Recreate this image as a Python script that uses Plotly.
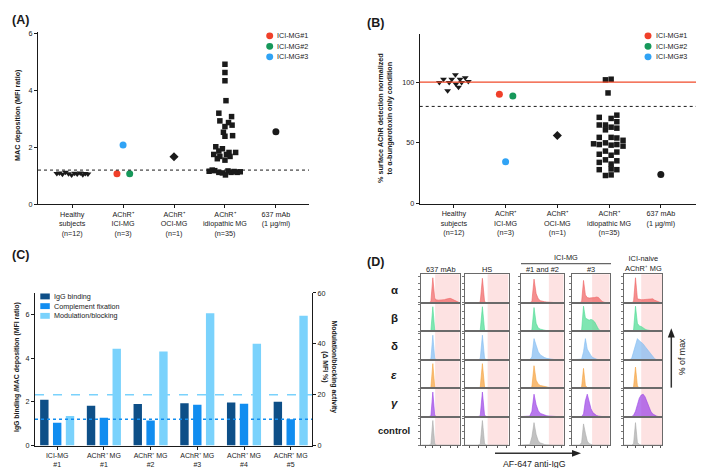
import plotly.graph_objects as go

W, H = 709, 468
FONT = "Liberation Sans, Arial, sans-serif"
INK = "#1a1a1a"

# ---------------- data ----------------
GROUPS = [
    "Healthy<br>subjects<br>(n=12)",
    "AChR⁺<br>ICI-MG<br>(n=3)",
    "AChR⁺<br>OCI-MG<br>(n=1)",
    "AChR⁺<br>idiopathic MG<br>(n=35)",
    "637 mAb<br>(1 µg/ml)",
]
ICI_NAMES = ["ICI-MG#1", "ICI-MG#2", "ICI-MG#3"]
ICI_COLORS = ["#f0402a", "#16985a", "#30a3f5"]

# panel A: MAC deposition (MFI ratio)
A_HEALTHY = [1.08, 1.10, 1.05, 1.12, 1.07, 1.03, 1.09, 1.06, 1.10, 1.04, 1.08, 1.06]
A_HEALTHY_DX = [-0.30, -0.25, -0.19, -0.13, -0.07, -0.01, 0.05, 0.10, 0.16, 0.21, 0.26, 0.31]
A_ICI = [1.07, 1.07, 2.08]
A_ICI_DX = [-0.12, 0.13, 0.0]
A_OCI = [1.67]
A_IDIO = [4.92, 4.63, 4.34, 3.64, 3.20, 3.08, 2.93, 2.87, 2.73, 2.78, 2.53, 2.39,
          2.41, 2.02, 1.95, 1.87, 1.82, 1.82, 1.75, 1.75, 1.68, 1.68, 1.60, 1.55,
          1.16, 1.18, 1.12, 1.10, 1.03, 1.17, 1.12, 1.15, 1.12, 1.14, 1.20]
A_IDIO_DX = [0.0, 0.0, 0.0, 0.02, -0.12, 0.13, -0.10, 0.07, 0.0, 0.14, -0.03, 0.0,
             0.15, -0.18, -0.05, -0.12, 0.08, 0.21, -0.22, 0.03, -0.10, 0.10, -0.15, 0.0,
             -0.31, -0.20, -0.12, -0.05, 0.01, 0.06, 0.12, 0.18, 0.24, 0.30, -0.25]
A_MAB = [2.55]
A_CUTOFF = 1.2

# panel B: % surface AChR detection
B_HEALTHY = [99.7, 102.4, 93.0, 99.7, 102.4, 106.0, 98.4, 95.7, 102.4, 99.7, 103.7, 100.5]
B_HEALTHY_DX = [-0.28, -0.20, -0.12, -0.09, -0.04, 0.03, 0.04, 0.09, 0.12, 0.15, 0.22, 0.28]
B_ICI = [90.0, 88.5, 34.5]
B_ICI_DX = [-0.12, 0.14, 0.0]
B_OCI = [56.0]
B_IDIO = [101.9, 102.4, 91.1, 72.8, 71.0, 70.1, 64.7, 64.7, 67.4, 62.9, 62.1, 60.7,
          54.5, 54.5, 54.0, 52.1, 49.2, 48.6, 50.0, 48.1, 48.6, 47.3, 40.6, 43.2,
          39.8, 42.4, 33.9, 36.0, 32.5, 35.2, 27.9, 28.5, 27.9, 23.1, 23.6]
B_IDIO_DX = [-0.07, 0.04, -0.02, 0.15, -0.19, 0.04, -0.19, -0.07, 0.15, 0.04, 0.15, -0.07,
             -0.19, 0.04, 0.15, 0.27, -0.30, -0.19, -0.07, 0.04, 0.15, 0.27, -0.19, -0.07,
             0.04, 0.15, -0.19, -0.07, 0.04, 0.15, -0.19, 0.04, 0.15, -0.07, 0.04]
B_MAB = [24.0]
B_REF = 100
B_CUTOFF = 80

# panel C: bars
C_GROUPS = ["ICI-MG<br>#1", "AChR⁺ MG<br>#1", "AChR⁺ MG<br>#2",
            "AChR⁺ MG<br>#3", "AChR⁺ MG<br>#4", "AChR⁺ MG<br>#5"]
C_IGG = [2.10, 1.83, 1.91, 1.94, 1.97, 2.01]
C_CF = [1.04, 1.27, 1.15, 1.87, 1.92, 1.21]
C_MOD = [11.6, 38.1, 37.0, 52.0, 40.0, 51.0]
C_MAC_CUT = 1.2
C_MOD_CUT = 20
C_NAMES = ["IgG binding", "Complement fixation", "Modulation/blocking"]
C_COLORS = ["#0d4f88", "#118df0", "#7ad2fc"]

# panel D: flow histograms (% of max on a shared bin grid)
D_BINS = [0.0, 0.05, 0.1, 0.15, 0.2, 0.25, 0.3, 0.35, 0.4, 0.45, 0.5,
          0.55, 0.6, 0.65, 0.7, 0.75, 0.8, 0.85, 0.9, 0.95, 1.0]
D_COLS = ["637 mAb", "HS", "#1 and #2", "#3", "ICI-naive<br>AChR⁺ MG"]
D_ROWS = ["α", "β", "δ", "<i>ε</i>", "<i>γ</i>", "control"]
D_ROW_COLORS = ["#f06464", "#4ddc94", "#84bdf2", "#f5a240", "#9d45e6", "#ababab"]
D_GATES = [0.36, 0.52, 0.65, 0.53, 0.45]

MAB_ALPHA = [0, 0, 0, 0, 0, 0.05, 0.95, 0.16, 0.11, 0.10, 0.10, 0.11, 0.12, 0.14, 0.16, 0.17, 0.14, 0.10, 0.06, 0.03, 0]
SPIKE_LOW = [0, 0, 0, 0, 0, 0.03, 0.93, 0.04, 0, 0, 0, 0, 0, 0, 0, 0, 0, 0, 0, 0, 0]
SPIKE_MID = [0, 0, 0, 0, 0, 0, 0, 0.03, 0.93, 0.04, 0, 0, 0, 0, 0, 0, 0, 0, 0, 0, 0]
ICI12_A = [0, 0, 0, 0, 0, 0.05, 0.90, 0.35, 0.15, 0.08, 0.05, 0.04, 0.03, 0.02, 0.02, 0.01, 0, 0, 0, 0, 0]
ICI12_B = [0, 0, 0, 0, 0, 0.05, 0.90, 0.30, 0.12, 0.08, 0.05, 0.03, 0.02, 0.01, 0.01, 0, 0, 0, 0, 0, 0]
ICI12_D = [0, 0, 0, 0, 0, 0.10, 0.80, 0.55, 0.30, 0.18, 0.12, 0.08, 0.05, 0.03, 0.02, 0.01, 0, 0, 0, 0, 0]
ICI12_E = [0, 0, 0, 0, 0, 0.05, 0.85, 0.30, 0.15, 0.10, 0.08, 0.05, 0.03, 0.02, 0.01, 0, 0, 0, 0, 0, 0]
ICI12_G = [0, 0, 0, 0, 0.02, 0.20, 0.85, 0.45, 0.22, 0.12, 0.08, 0.05, 0.03, 0.02, 0.01, 0, 0, 0, 0, 0, 0]
ICI12_C = [0, 0, 0, 0, 0.02, 0.30, 0.85, 0.40, 0.15, 0.08, 0.04, 0.02, 0.01, 0, 0, 0, 0, 0, 0, 0, 0]
ICI3_A = [0, 0, 0, 0, 0, 0.05, 0.85, 0.30, 0.20, 0.18, 0.18, 0.20, 0.20, 0.22, 0.20, 0.12, 0.05, 0.02, 0, 0, 0]
ICI3_B = [0, 0, 0, 0, 0, 0.05, 0.95, 0.50, 0.45, 0.42, 0.45, 0.42, 0.35, 0.20, 0.08, 0.02, 0, 0, 0, 0, 0]
ICI3_D = [0, 0, 0, 0, 0, 0.02, 0.30, 0.80, 0.40, 0.25, 0.15, 0.08, 0.04, 0.02, 0, 0, 0, 0, 0, 0, 0]
ICI3_E = [0, 0, 0, 0, 0, 0.05, 0.75, 0.10, 0.02, 0, 0, 0, 0, 0, 0, 0, 0, 0, 0, 0, 0]
ICI3_G = [0, 0, 0, 0, 0, 0, 0.10, 0.60, 0.85, 0.55, 0.30, 0.15, 0.08, 0.04, 0.02, 0, 0, 0, 0, 0, 0]
ICI3_C = [0, 0, 0, 0, 0, 0.10, 0.80, 0.45, 0.15, 0.05, 0.02, 0, 0, 0, 0, 0, 0, 0, 0, 0, 0]
NAIVE_A = [0, 0, 0, 0, 0, 0.05, 0.95, 0.15, 0.12, 0.12, 0.12, 0.13, 0.14, 0.15, 0.16, 0.15, 0.10, 0.06, 0.03, 0.01, 0]
NAIVE_B = [0, 0, 0, 0, 0, 0.05, 0.95, 0.30, 0.20, 0.18, 0.12, 0.08, 0.05, 0.03, 0.02, 0.01, 0, 0, 0, 0, 0]
NAIVE_D = [0, 0, 0, 0, 0.05, 0.30, 0.60, 0.80, 0.72, 0.66, 0.60, 0.50, 0.40, 0.30, 0.20, 0.10, 0.04, 0, 0, 0, 0]
NAIVE_E = [0, 0, 0, 0, 0, 0.05, 0.80, 0.08, 0, 0, 0, 0, 0, 0, 0, 0, 0, 0, 0, 0, 0]
NAIVE_G = [0, 0, 0, 0, 0, 0.05, 0.20, 0.45, 0.70, 0.82, 0.85, 0.75, 0.55, 0.35, 0.20, 0.10, 0.05, 0.02, 0, 0, 0]
NAIVE_C = [0, 0, 0, 0, 0, 0.05, 0.85, 0.10, 0.02, 0, 0, 0, 0, 0, 0, 0, 0, 0, 0, 0, 0]

D_GRID = [  # one list per column, rows alpha..control
    [MAB_ALPHA, SPIKE_LOW, SPIKE_LOW, SPIKE_LOW, SPIKE_LOW, SPIKE_LOW],
    [SPIKE_MID, SPIKE_MID, SPIKE_MID, SPIKE_MID, SPIKE_MID, SPIKE_MID],
    [ICI12_A, ICI12_B, ICI12_D, ICI12_E, ICI12_G, ICI12_C],
    [ICI3_A, ICI3_B, ICI3_D, ICI3_E, ICI3_G, ICI3_C],
    [NAIVE_A, NAIVE_B, NAIVE_D, NAIVE_E, NAIVE_G, NAIVE_C],
]


# ---------------- helpers ----------------
def px(p):
    return p / W


def py(p):
    return 1 - p / H


def rgba(hex_color, a):
    h = hex_color.lstrip("#")
    return f"rgba({int(h[0:2], 16)},{int(h[2:4], 16)},{int(h[4:6], 16)},{a})"


def base_axis(**kw):
    d = dict(showline=True, linecolor=INK, linewidth=1.1, ticks="outside", ticklen=3,
             tickwidth=1, tickcolor=INK, showgrid=False, zeroline=False,
             tickfont=dict(size=7.2, color=INK, family=FONT))
    d.update(kw)
    return d


annotations = []
shapes = []


def note(text, x, y, size=7.2, xanchor="center", yanchor="middle", angle=0, bold=False):
    annotations.append(dict(
        text=f"<b>{text}</b>" if bold else text, x=px(x), y=py(y), xref="paper", yref="paper",
        xanchor=xanchor, yanchor=yanchor, showarrow=False, textangle=angle,
        font=dict(size=size, color=INK, family=FONT)))


def arrow(x0, y0, x1, y1, head):
    # shaft as a line, head as a filled triangle path (pixel coords -> paper)
    shapes.append(dict(type="line", xref="paper", yref="paper", x0=px(x0), y0=py(y0),
                       x1=px(x1), y1=py(y1), line=dict(color="#333", width=1.5)))
    path = "M " + " L ".join(f"{px(a)} {py(b)}" for a, b in head) + " Z"
    shapes.append(dict(type="path", xref="paper", yref="paper", path=path,
                       fillcolor="#222", line=dict(width=0)))


fig = go.Figure()


def scatter(xs, ys, symbol, size, color, xa, ya):
    fig.add_trace(go.Scatter(x=xs, y=ys, mode="markers", xaxis=xa, yaxis=ya, showlegend=False,
                             cliponaxis=False,
                             marker=dict(symbol=symbol, size=size, color=color, line=dict(width=0))))


# ---------------- panel A ----------------
scatter([0 + d for d in A_HEALTHY_DX], A_HEALTHY, "triangle-down", 6, INK, "x", "y")
scatter([1 + d for d in A_ICI_DX], A_ICI, "circle", 7, ICI_COLORS, "x", "y")
scatter([2], A_OCI, "diamond", 7, INK, "x", "y")
scatter([3 + d for d in A_IDIO_DX], A_IDIO, "square", 5.5, INK, "x", "y")
scatter([4], A_MAB, "circle", 7, INK, "x", "y")
shapes.append(dict(type="line", xref="x domain", yref="y", x0=0, x1=1, y0=A_CUTOFF, y1=A_CUTOFF,
                   line=dict(color=INK, width=1, dash="dot")))

# ---------------- panel B ----------------
scatter([0 + d for d in B_HEALTHY_DX], B_HEALTHY, "triangle-down", 6, INK, "x2", "y2")
scatter([1 + d for d in B_ICI_DX], B_ICI, "circle", 7, ICI_COLORS, "x2", "y2")
scatter([2], B_OCI, "diamond", 7, INK, "x2", "y2")
scatter([3 + d for d in B_IDIO_DX], B_IDIO, "square", 5.5, INK, "x2", "y2")
scatter([4], B_MAB, "circle", 7, INK, "x2", "y2")
shapes.append(dict(type="line", xref="x2 domain", yref="y2", x0=0, x1=1, y0=B_REF, y1=B_REF,
                   line=dict(color="#f04a2a", width=1.4)))
shapes.append(dict(type="line", xref="x2 domain", yref="y2", x0=0, x1=1, y0=B_CUTOFF, y1=B_CUTOFF,
                   line=dict(color=INK, width=1, dash="dot")))

# ---------------- panel C ----------------
cx = list(range(len(C_GROUPS)))
for vals, name, color, ya, off in [(C_IGG, C_NAMES[0], C_COLORS[0], "y3", -0.365),
                                   (C_CF, C_NAMES[1], C_COLORS[1], "y3", -0.09),
                                   (C_MOD, C_NAMES[2], C_COLORS[2], "y4", 0.185)]:
    fig.add_trace(go.Bar(x=cx, y=vals, name=name, xaxis="x3", yaxis=ya, offset=off, width=0.18,
                         marker=dict(color=color, line=dict(width=0)), showlegend=False))
shapes.append(dict(type="line", xref="x3 domain", yref="y4", x0=0, x1=1, y0=C_MOD_CUT, y1=C_MOD_CUT,
                   line=dict(color=C_COLORS[2], width=1.5, dash="dash")))
shapes.append(dict(type="line", xref="x3 domain", yref="y3", x0=0, x1=1, y0=C_MAC_CUT, y1=C_MAC_CUT,
                   line=dict(color=C_COLORS[1], width=1.5, dash="dot")))

layout = dict(
    width=W, height=H, margin=dict(l=0, r=0, t=0, b=0),
    paper_bgcolor="white", plot_bgcolor="white", barmode="overlay", showlegend=False,
    font=dict(family=FONT, color=INK),
    xaxis=base_axis(domain=[px(30), px(301)], range=[-0.67, 4.65], anchor="y",
                    tickvals=list(range(5)), ticktext=GROUPS),
    yaxis=base_axis(domain=[py(196), py(20.5)], range=[0, 6.05], anchor="x", tickvals=[0, 2, 4, 6]),
    xaxis2=base_axis(domain=[px(411.7), px(688)], range=[-0.66, 4.68], anchor="y2",
                     tickvals=list(range(5)), ticktext=GROUPS),
    yaxis2=base_axis(domain=[py(195.3), py(22)], range=[0, 140], anchor="x2", tickvals=[0, 50, 100]),
    xaxis3=base_axis(domain=[px(27), px(304)], range=[-0.475, 5.456], anchor="y3",
                     tickvals=cx, ticktext=C_GROUPS, tickfont=dict(size=7, color=INK, family=FONT)),
    yaxis3=base_axis(domain=[py(442), py(286.5)], range=[0, 7], anchor="x3", tickvals=[0, 2, 4, 6]),
    yaxis4=base_axis(domain=[py(442), py(286.5)], range=[0, 60], anchor="x3", overlaying="y3",
                     side="right", tickvals=[0, 20, 40, 60]),
)

# ---------------- panel D ----------------
D_COL_PX = [(413.3, 451.7), (457.0, 500.5), (513.3, 555.7), (564.3, 601.7), (616.0, 654.3)]
ROW_TOP, ROW_H = 267.5, 29.0
for c, col in enumerate(D_GRID):
    x0p, x1p = D_COL_PX[c]
    for r, hist in enumerate(col):
        n = 5 + c * 6 + r
        top = ROW_TOP + r * ROW_H
        layout[f"xaxis{n}"] = dict(
            domain=[px(x0p), px(x1p)], range=[0, 1], anchor=f"y{n}", showline=True, mirror=True,
            linecolor="#6a6a6a", linewidth=0.7, showgrid=False, zeroline=False, showticklabels=False,
            ticks="outside" if r == 5 else "", ticklen=2, tickwidth=0.6, tickcolor="#555",
            tickvals=[0.1, 0.3, 0.5, 0.75, 0.95])
        layout[f"yaxis{n}"] = dict(
            domain=[py(top + ROW_H), py(top)], range=[0, 1.08], anchor=f"x{n}", showline=True,
            mirror=True, linecolor="#6a6a6a", linewidth=0.7, showgrid=False, zeroline=False,
            showticklabels=False, ticks="outside", ticklen=2, tickwidth=0.6, tickcolor="#777",
            tickvals=[0, 0.25, 0.5, 0.75, 1.0])
        shapes.append(dict(type="rect", xref=f"x{n}", yref=f"y{n} domain", x0=D_GATES[c], x1=1,
                           y0=0, y1=1, fillcolor="#fde2e2", line=dict(width=0), layer="below"))
        color = D_ROW_COLORS[r]
        fig.add_trace(go.Scatter(x=D_BINS, y=hist, mode="lines", fill="tozeroy",
                                 fillcolor=rgba(color, 0.72), line=dict(color=color, width=0.6),
                                 xaxis=f"x{n}", yaxis=f"y{n}", showlegend=False))

# column headers
for c, name in enumerate(D_COLS):
    cxp = (D_COL_PX[c][0] + D_COL_PX[c][1]) / 2
    if c == 4:
        note(name, cxp, 256.5, size=7.4)
    else:
        note(name, cxp, 262.5, size=7.4)
note("ICI-MG", 558, 250.5, size=7.4)
shapes.append(dict(type="line", xref="paper", yref="paper", x0=px(513), x1=px(603),
                   y0=py(256.5), y1=py(256.5), line=dict(color="#666", width=1.3)))
# row labels
for r, name in enumerate(D_ROWS):
    yc = ROW_TOP + (r + 0.5) * ROW_H
    if r == 5:
        note(name, 386, yc, size=9.5, bold=True)
    else:
        note(name, 386, yc + 1, size=11.5, bold=True)
# axis arrows
arrow(487, 450, 566, 450, [(564, 446.5), (573, 450), (564, 453.5)])
arrow(663.3, 383, 663.3, 330, [(659.8, 332), (663.3, 322.5), (666.8, 332)])
note("AF-647 anti-IgG", 526, 460.5, size=8.8)
note("% of max", 674, 352, size=8.8, angle=-90)

# ---------------- titles, legends, panel labels ----------------
note("(A)", 2, 8, size=12.5, xanchor="left", bold=True)
note("(B)", 357, 11, size=12.5, xanchor="left", bold=True)
note("(C)", 2, 248, size=12.5, xanchor="left", bold=True)
note("(D)", 357, 255, size=12.5, xanchor="left", bold=True)
note("MAC deposition (MFI ratio)", 10, 105, size=7.2, angle=-90, bold=True)
note("% surface AChR detection normalized<br>to α-bungarotoxin only condition", 377, 108,
     size=7.2, angle=-90, bold=True)
note("IgG binding /MAC deposition (MFI ratio)", 9, 362, size=6.9, angle=-90, bold=True)
note("Modulation/blocking activity<br>(Δ MFI %)", 321.5, 362, size=6.9, angle=90, bold=True)

for legend_x in (261.7, 640.0):
    for i, (name, color) in enumerate(zip(ICI_NAMES, ICI_COLORS)):
        yc = 24.3 + i * 10.7
        shapes.append(dict(type="circle", xref="paper", yref="paper",
                           x0=px(legend_x - 3.5), x1=px(legend_x + 3.5), y0=py(yc + 3.5), y1=py(yc - 3.5),
                           fillcolor=color, line=dict(width=0)))
        note(name, legend_x + 5.5, yc, size=7.2, xanchor="left")

for i, (name, color) in enumerate(zip(C_NAMES, C_COLORS)):
    yc = 290 + i * 9.9
    shapes.append(dict(type="rect", xref="paper", yref="paper", x0=px(32.3), x1=px(41.8),
                       y0=py(yc + 3), y1=py(yc - 3), fillcolor=color, line=dict(width=0)))
    note(name, 44, yc, size=7.2, xanchor="left")

layout["shapes"] = shapes
layout["annotations"] = annotations
fig.update_layout(**layout)

fig.write_html("out.html")
